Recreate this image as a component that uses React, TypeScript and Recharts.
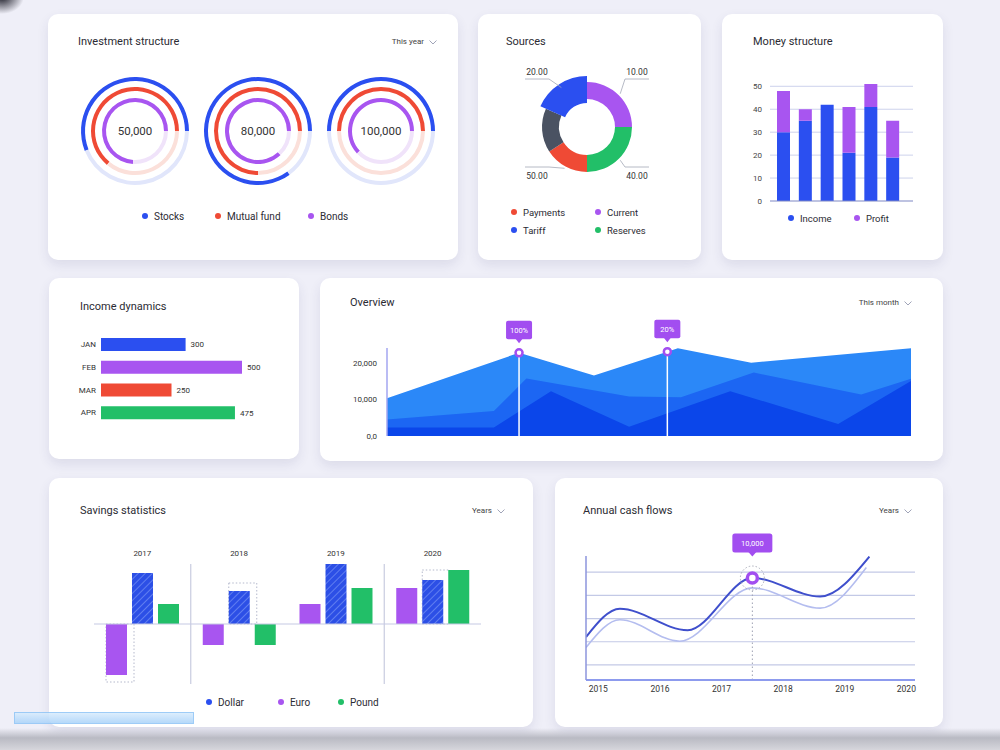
import React from "react"
import {
  PieChart,
  Pie,
  Cell,
  BarChart,
  Bar,
  XAxis,
  YAxis,
  CartesianGrid,
  LabelList,
  AreaChart,
  Area,
  LineChart,
  Line,
  ReferenceLine,
  ReferenceDot,
} from "recharts"

// Investment structure: share of each full ring (%)
const gaugeTotals = [50000, 80000, 100000]
const stocksShare = [56, 85, 50]
const mutualShare = [64, 75, 50]
const bondsShare = [74, 87, 62]

// Sources: slice sizes (clockwise from top) and callout values
const sourceNames = ["Current", "Reserves", "Payments", "Other", "Tariff"]
const sourceShares = [90, 90, 57, 57, 66]
const sourceLabels = ["10.00", "40.00", "50.00", "", "20.00"]

// Money structure
const moneyIncome = [30, 35, 42, 21, 41, 19]
const moneyProfit = [18, 5, 0, 20, 10, 16]
const moneyTicks = [0, 10, 20, 30, 40, 50]
const moneyMax = 51

// Income dynamics
const incomeMonths = ["JAN", "FEB", "MAR", "APR"]
const incomeValues = [300, 500, 250, 475]

// Overview (x = position through the month, %)
const ovLightX = [0, 25.2, 39.5, 53.5, 55.5, 69.5, 100]
const ovLight = [10300, 22700, 16500, 23000, 23900, 20000, 23900]
const ovMidX = [0, 20.4, 26.6, 46.2, 56.1, 70, 90.5, 100]
const ovMid = [4500, 6800, 15700, 10800, 10600, 17300, 11300, 15600]
const ovDarkX = [0, 20.4, 31.3, 46.2, 65.5, 86.1, 100]
const ovDark = [2300, 2300, 12200, 2500, 12200, 3300, 15000]
const ovTicks = [0, 10000, 20000]
const ovPinIndex = [1, 3]
const ovPinText = ["100%", "20%"]

// Savings statistics
const savingsYears = ["2017", "2018", "2019", "2020"]
const savingsEuro = [-51, -21, 20, 36]
const savingsDollar = [51, 33, 60, 44]
const savingsPound = [20, -21, 36, 54]
const savingsEuroPrev = [-58, null, null, null]
const savingsDollarPrev = [null, 41, null, 54]

// Annual cash flows
const cashDarkX = [2014.8, 2015.35, 2016.45, 2017.5, 2018.6, 2019.4]
const cashDark = [4900, 7350, 5500, 10000, 8400, 11850]
const cashLightX = [2014.8, 2015.35, 2016.32, 2017.5, 2018.6, 2019.35]
const cashLight = [4000, 6400, 4550, 9150, 7400, 10900]
const cashYears = [2015, 2016, 2017, 2018, 2019, 2020]
const cashGrid = [2500, 4500, 6500, 8500, 10500]
const cashDomain = [1200, 11900]
const cashPinIndex = 3

const C = {
  blue: "#2b4ff0",
  red: "#ef4a35",
  purple: "#a855f0",
  green: "#22bf68",
  slate: "#4a5262",
  pin: "#a24ef0",
  text: "#2b2b33",
}

const noMargin = { top: 0, right: 0, bottom: 0, left: 0 }

// y pixel of a value inside the plot area that recharts hands to the grid
const gridRows = (values: number[], lo: number, hi: number) => ({ offset }: any) =>
  values.map((v) => offset.top + (offset.height * (hi - v)) / (hi - lo))

function Card({ left, top, width, height, children }: any) {
  return (
    <div
      style={{
        position: "absolute",
        left,
        top,
        width,
        height,
        background: "#fff",
        borderRadius: 10,
        boxShadow: "0 5px 12px rgba(50,50,110,0.10)",
        overflow: "hidden",
      }}
    >
      {children}
    </div>
  )
}

function Title({ left, top, children }: any) {
  return (
    <div style={{ position: "absolute", left, top, fontSize: 11, lineHeight: "14px", color: C.text, zIndex: 2 }}>
      {children}
    </div>
  )
}

function Dropdown({ right, top, label }: any) {
  return (
    <div
      style={{
        position: "absolute",
        right,
        top,
        fontSize: 8,
        lineHeight: "10px",
        color: "#444",
        display: "flex",
        alignItems: "center",
        zIndex: 2,
      }}
    >
      {label}
      <svg width={8} height={5} style={{ marginLeft: 5 }}>
        <polyline points="0.5,0.5 4,4 7.5,0.5" fill="none" stroke="#a0a4b8" strokeWidth={1} />
      </svg>
    </div>
  )
}

function LegendItem({ x, y, color, label, size = 10 }: any) {
  return (
    <div
      style={{
        position: "absolute",
        left: x - 3,
        top: y - 7,
        height: 14,
        display: "flex",
        alignItems: "center",
        whiteSpace: "nowrap",
        fontSize: size,
        color: C.text,
      }}
    >
      <span style={{ width: 6, height: 6, borderRadius: 3, background: color, marginRight: 6 }} />
      {label}
    </div>
  )
}

function InvestmentCard() {
  const centers = [87, 210, 333]
  const rings = [
    { share: stocksShare, color: C.blue, track: "#e1e6fb", inner: 50, outer: 54 },
    { share: mutualShare, color: C.red, track: "#fbe0da", inner: 40, outer: 44 },
    { share: bondsShare, color: C.purple, track: "#f0e3fa", inner: 29, outer: 33 },
  ]
  return (
    <Card left={48} top={14} width={410} height={246}>
      <Title left={30} top={21}>Investment structure</Title>
      <Dropdown right={21} top={23} label="This year" />
      <div style={{ position: "absolute", left: 0, top: 0 }}>
        <PieChart width={410} height={246} margin={noMargin}>
          {centers.map((cx, g) =>
            rings.map((ring, r) => (
              <Pie
                key={`${g}-${r}`}
                data={[{ v: ring.share[g] }, { v: 100 - ring.share[g] }]}
                dataKey="v"
                cx={cx}
                cy={117}
                innerRadius={ring.inner}
                outerRadius={ring.outer}
                startAngle={0}
                endAngle={360}
                stroke="none"
                isAnimationActive={false}
              >
                <Cell fill={ring.color} />
                <Cell fill={ring.track} />
              </Pie>
            ))
          )}
        </PieChart>
      </div>
      {centers.map((cx, g) => (
        <div
          key={g}
          style={{
            position: "absolute",
            left: cx - 40,
            top: 110,
            width: 80,
            textAlign: "center",
            fontSize: 11.5,
            lineHeight: "14px",
            color: "#333",
          }}
        >
          {gaugeTotals[g].toLocaleString("en-US")}
        </div>
      ))}
      <LegendItem x={97} y={202} color={C.blue} label="Stocks" />
      <LegendItem x={170} y={202} color={C.red} label="Mutual fund" />
      <LegendItem x={263} y={202} color={C.purple} label="Bonds" />
    </Card>
  )
}

const sourceColors = [C.purple, C.green, C.red, C.slate, C.blue]

function renderSourceLabel(p: any) {
  const { cx, cy, midAngle, outerRadius, index } = p
  const text = sourceLabels[index]
  if (!text) return null
  const rad = Math.PI / 180
  const cos = Math.cos(-midAngle * rad)
  const sin = Math.sin(-midAngle * rad)
  const sx = cos >= 0 ? 1 : -1
  const sy = sin >= 0 ? 1 : -1
  const r = outerRadius + 2
  const x0 = cx + r * cos
  const y0 = cy + r * sin
  const ex = cx + sx * 38
  const ey = cy + (sy < 0 ? -48 : 40)
  const hx = cx + sx * 62
  return (
    <g>
      <polyline points={`${x0},${y0} ${ex},${ey} ${hx},${ey}`} fill="none" stroke="#a3a8b6" strokeWidth={0.8} />
      <text x={cx + sx * 50} y={sy < 0 ? ey - 4.5 : ey + 12} textAnchor="middle" fontSize={8.5} fill="#333">
        {text}
      </text>
    </g>
  )
}

function SourcesCard() {
  const data = sourceNames.map((name, i) => ({ name, value: sourceShares[i] }))
  const tariff = sourceNames.indexOf("Tariff")
  return (
    <Card left={478} top={14} width={223} height={246}>
      <Title left={28} top={21}>Sources</Title>
      <div style={{ position: "absolute", left: 0, top: 0 }}>
        <PieChart width={223} height={246} margin={noMargin}>
          <Pie
            data={data}
            dataKey="value"
            cx={109}
            cy={113}
            innerRadius={28}
            outerRadius={45}
            startAngle={90}
            endAngle={-270}
            stroke="none"
            label={renderSourceLabel}
            labelLine={false}
            isAnimationActive={false}
          >
            {data.map((d, i) => (
              <Cell key={d.name} fill={i === tariff ? "transparent" : sourceColors[i]} />
            ))}
          </Pie>
          <Pie
            data={data}
            dataKey="value"
            cx={109}
            cy={113}
            innerRadius={24}
            outerRadius={51}
            startAngle={90}
            endAngle={-270}
            stroke="none"
            isAnimationActive={false}
          >
            {data.map((d, i) => (
              <Cell key={d.name} fill={i === tariff ? sourceColors[i] : "transparent"} />
            ))}
          </Pie>
        </PieChart>
      </div>
      <LegendItem x={36} y={198} color={C.red} label="Payments" size={9.5} />
      <LegendItem x={120} y={198} color={C.purple} label="Current" size={9.5} />
      <LegendItem x={36} y={216} color={C.blue} label="Tariff" size={9.5} />
      <LegendItem x={120} y={216} color={C.green} label="Reserves" size={9.5} />
    </Card>
  )
}

function MoneyCard() {
  const data = moneyIncome.map((v, i) => ({ name: String(i + 1), income: v, profit: moneyProfit[i] }))
  return (
    <Card left={722} top={14} width={221} height={246}>
      <Title left={31} top={21}>Money structure</Title>
      <div style={{ position: "absolute", left: 0, top: 0 }}>
        <BarChart width={221} height={246} data={data} margin={{ top: 70, right: 30, bottom: 58, left: 18 }}>
          <CartesianGrid
            vertical={false}
            horizontalCoordinatesGenerator={gridRows(moneyTicks.filter((t) => t > 0), 0, moneyMax)}
            stroke="#cdd2ec"
          />
          <XAxis
            dataKey="name"
            tick={false}
            tickLine={false}
            height={1}
            padding={{ left: 3, right: 9 }}
            axisLine={{ stroke: "#7e87c4", strokeWidth: 1.2 }}
          />
          <YAxis
            domain={[0, moneyMax]}
            allowDataOverflow
            ticks={moneyTicks}
            width={30}
            tickLine={false}
            axisLine={false}
            tick={{ fontSize: 8, fill: "#444" }}
          />
          <Bar dataKey="income" stackId="a" fill={C.blue} barSize={13} isAnimationActive={false} />
          <Bar dataKey="profit" stackId="a" fill={C.purple} barSize={13} isAnimationActive={false} />
        </BarChart>
      </div>
      <LegendItem x={69} y={204} color={C.blue} label="Income" size={9.5} />
      <LegendItem x={135} y={204} color={C.purple} label="Profit" size={9.5} />
    </Card>
  )
}

const incomeColors = [C.blue, C.purple, C.red, C.green]

function IncomeCard() {
  const data = incomeMonths.map((month, i) => ({ month, value: incomeValues[i] }))
  return (
    <Card left={49} top={278} width={250} height={181}>
      <Title left={31} top={22}>Income dynamics</Title>
      <div style={{ position: "absolute", left: 0, top: 0 }}>
        <BarChart
          width={250}
          height={181}
          data={data}
          layout="vertical"
          margin={{ top: 55, right: 57, bottom: 35, left: 22 }}
        >
          <XAxis type="number" domain={[0, 500]} hide />
          <YAxis
            type="category"
            dataKey="month"
            width={30}
            tickLine={false}
            axisLine={false}
            tickSize={3}
            tickMargin={2}
            tick={{ fontSize: 8, fill: "#333" }}
          />
          <Bar dataKey="value" barSize={13} isAnimationActive={false}>
            {data.map((d, i) => (
              <Cell key={d.month} fill={incomeColors[i]} />
            ))}
            <LabelList dataKey="value" position="right" offset={5} fontSize={8} fill="#333" />
          </Bar>
        </BarChart>
      </div>
    </Card>
  )
}

const overviewPin = (text: string) => (p: any) => {
  const { cx, cy } = p
  return (
    <g>
      <rect x={cx - 13} y={cy - 32} width={26} height={18.5} rx={2} fill={C.pin} />
      <path d={`M${cx - 3.5},${cy - 14} L${cx},${cy - 9.5} L${cx + 3.5},${cy - 14} Z`} fill={C.pin} />
      <text x={cx} y={cy - 20} textAnchor="middle" fontSize={7.5} fill="#fff">
        {text}
      </text>
      <circle cx={cx} cy={cy} r={3.5} fill="#fff" stroke={C.pin} strokeWidth={2.5} />
    </g>
  )
}

function OverviewCard() {
  const rows = [
    ...ovLightX.map((x, i) => ({ x, light: ovLight[i] })),
    ...ovMidX.map((x, i) => ({ x, mid: ovMid[i] })),
    ...ovDarkX.map((x, i) => ({ x, dark: ovDark[i] })),
  ].sort((a, b) => a.x - b.x)
  return (
    <Card left={320} top={278} width={623} height={183}>
      <Title left={30} top={18}>Overview</Title>
      <Dropdown right={31} top={20} label="This month" />
      <div style={{ position: "absolute", left: 0, top: 0 }}>
        <AreaChart width={623} height={183} data={rows} margin={{ top: 70, right: 32, bottom: 25, left: 17 }}>
          <XAxis type="number" dataKey="x" domain={[0, 100]} hide />
          <YAxis
            domain={[0, 24000]}
            ticks={ovTicks}
            width={50}
            tickLine={false}
            tickMargin={4}
            axisLine={{ stroke: "#a3a6f0", strokeWidth: 1.5 }}
            tick={{ fontSize: 8, fill: "#333" }}
            tickFormatter={(v: number) => (v === 0 ? "0,0" : v.toLocaleString("en-US"))}
          />
          <Area dataKey="light" type="linear" stroke="none" fill="#2b88f8" fillOpacity={1} connectNulls isAnimationActive={false} />
          <Area dataKey="mid" type="linear" stroke="none" fill="#1c66f3" fillOpacity={1} connectNulls isAnimationActive={false} />
          <Area dataKey="dark" type="linear" stroke="none" fill="#0b46ea" fillOpacity={1} connectNulls isAnimationActive={false} />
          {ovPinIndex.map((idx) => (
            <ReferenceLine
              key={`l${idx}`}
              segment={[
                { x: ovLightX[idx], y: 0 },
                { x: ovLightX[idx], y: ovLight[idx] },
              ]}
              stroke="#ffffff"
              strokeWidth={1.5}
            />
          ))}
          {ovPinIndex.map((idx, k) => (
            <ReferenceDot key={`d${idx}`} x={ovLightX[idx]} y={ovLight[idx]} r={4} shape={overviewPin(ovPinText[k])} />
          ))}
        </AreaChart>
      </div>
    </Card>
  )
}

const prevBarShape = (fill: string, valueKey: string, prevKey: string) => (props: any) => {
  const { x, y, width, height, payload } = props
  const v = payload[valueKey]
  const prev = payload[prevKey]
  const top = Math.min(y, y + height)
  const h = Math.abs(height)
  const zeroY = v >= 0 ? top + h : top
  let ghost = null
  if (prev != null && v) {
    const gh = (Math.abs(prev) * h) / Math.abs(v)
    const gy = prev >= 0 ? zeroY - gh : zeroY
    ghost = (
      <rect x={x} y={gy} width={width + 7} height={gh} fill="none" stroke="#b5b9cc" strokeWidth={1} strokeDasharray="1.5 2" />
    )
  }
  return (
    <g>
      {ghost}
      <rect x={x} y={top} width={width} height={h} fill={fill} />
    </g>
  )
}

function SavingsCard() {
  const data = savingsYears.map((year, i) => ({
    year,
    euro: savingsEuro[i],
    dollar: savingsDollar[i],
    pound: savingsPound[i],
    euroPrev: savingsEuroPrev[i],
    dollarPrev: savingsDollarPrev[i],
  }))
  // dividers between 2017|2018 and 2019|2020 groups
  const dividers = ({ offset }: any) => [offset.left + offset.width / 4, offset.left + (offset.width * 3) / 4]
  return (
    <Card left={49} top={478} width={484} height={249}>
      <Title left={31} top={26}>Savings statistics</Title>
      <Dropdown right={28} top={28} label="Years" />
      <div style={{ position: "absolute", left: 0, top: 0 }}>
        <BarChart
          width={484}
          height={249}
          data={data}
          barGap={5}
          margin={{ top: 66, right: 52, bottom: 43, left: 45 }}
        >
          <CartesianGrid horizontal={false} verticalCoordinatesGenerator={dividers} stroke="#c8cce0" strokeWidth={1.2} />
          <XAxis
            dataKey="year"
            orientation="top"
            height={20}
            tickLine={false}
            axisLine={false}
            tick={{ fontSize: 8, fill: "#333" }}
          />
          <YAxis domain={[-60, 60]} hide />
          <ReferenceLine y={0} stroke="#c5cae3" strokeWidth={1.2} />
          <Bar dataKey="euro" barSize={21} isAnimationActive={false} shape={prevBarShape(C.purple, "euro", "euroPrev")} />
          <Bar
            dataKey="dollar"
            barSize={21}
            isAnimationActive={false}
            shape={prevBarShape("url(#hatch)", "dollar", "dollarPrev")}
          />
          <Bar dataKey="pound" barSize={21} fill={C.green} isAnimationActive={false} />
        </BarChart>
      </div>
      <LegendItem x={160} y={224} color={C.blue} label="Dollar" />
      <LegendItem x={232} y={224} color={C.purple} label="Euro" />
      <LegendItem x={292} y={224} color={C.green} label="Pound" />
    </Card>
  )
}

function cashPin(p: any) {
  const { cx, cy } = p
  return (
    <g>
      <circle cx={cx} cy={cy} r={12} fill="none" stroke="#a9abb8" strokeWidth={1} strokeDasharray="1.5 2" />
      <rect x={cx - 20} y={cy - 44.5} width={40} height={19} rx={2.5} fill={C.pin} />
      <path d={`M${cx - 4},${cy - 26} L${cx},${cy - 21.5} L${cx + 4},${cy - 26} Z`} fill={C.pin} />
      <text x={cx} y={cy - 32} textAnchor="middle" fontSize={7.5} fill="#fff">
        {cashDark[cashPinIndex].toLocaleString("en-US")}
      </text>
      <circle cx={cx} cy={cy} r={5} fill="#fff" stroke={C.pin} strokeWidth={3.5} />
    </g>
  )
}

function CashFlowCard() {
  const rows = [
    ...cashDarkX.map((x, i) => ({ x, dark: cashDark[i] })),
    ...cashLightX.map((x, i) => ({ x, light: cashLight[i] })),
  ].sort((a, b) => a.x - b.x)
  const px = cashDarkX[cashPinIndex]
  const py = cashDark[cashPinIndex]
  return (
    <Card left={555} top={478} width={388} height={249}>
      <Title left={28} top={26}>Annual cash flows</Title>
      <Dropdown right={31} top={28} label="Years" />
      <div style={{ position: "absolute", left: 0, top: 0 }}>
        <LineChart width={388} height={249} data={rows} margin={{ top: 78, right: 28, bottom: 27, left: 30 }}>
          <CartesianGrid
            vertical={false}
            horizontalCoordinatesGenerator={gridRows(cashGrid, cashDomain[0], cashDomain[1])}
            stroke="#c3c9e6"
            strokeWidth={1.2}
          />
          <XAxis
            type="number"
            dataKey="x"
            domain={[2014.8, 2020.14]}
            ticks={cashYears}
            allowDataOverflow
            height={20}
            tickLine={false}
            tickMargin={0}
            axisLine={{ stroke: "#8d9bee", strokeWidth: 2 }}
            tick={{ fontSize: 8.5, fill: "#333" }}
          />
          <YAxis
            domain={cashDomain}
            allowDataOverflow
            width={1}
            tick={false}
            tickLine={false}
            axisLine={{ stroke: "#8c94dd", strokeWidth: 1.5 }}
          />
          <Line dataKey="light" type="monotone" stroke="#b4bdef" strokeWidth={1.6} dot={false} connectNulls isAnimationActive={false} />
          <Line dataKey="dark" type="monotone" stroke="#3f4fcc" strokeWidth={2} dot={false} connectNulls isAnimationActive={false} />
          <ReferenceLine
            segment={[
              { x: px, y: cashDomain[0] },
              { x: px, y: py },
            ]}
            stroke="#9ea1b3"
            strokeDasharray="1.5 2.5"
          />
          <ReferenceDot x={px} y={py} r={5} shape={cashPin} />
        </LineChart>
      </div>
    </Card>
  )
}

export default function App() {
  return (
    <div
      style={{
        position: "absolute",
        left: 0,
        top: 0,
        width: 1000,
        height: 750,
        overflow: "hidden",
        background: "#efeff8",
        fontFamily: 'Roboto, "Noto Sans", sans-serif',
      }}
    >
      <svg width={0} height={0} style={{ position: "absolute" }}>
        <defs>
          <pattern id="hatch" patternUnits="userSpaceOnUse" width={5} height={5} patternTransform="rotate(45)">
            <rect width={5} height={5} fill="#2c4fe6" />
            <line x1={0} y1={0} x2={0} y2={5} stroke="#7c98f6" strokeWidth={1.3} />
          </pattern>
        </defs>
      </svg>
      <div
        style={{
          position: "absolute",
          left: -20,
          top: -20,
          width: 44,
          height: 34,
          borderRadius: "50%",
          background: "radial-gradient(closest-side, #1d1d28, rgba(30,30,40,0))",
        }}
      />
      <InvestmentCard />
      <SourcesCard />
      <MoneyCard />
      <IncomeCard />
      <OverviewCard />
      <SavingsCard />
      <CashFlowCard />
      <div
        style={{
          position: "absolute",
          left: 0,
          top: 728,
          width: 1000,
          height: 22,
          background: "linear-gradient(to bottom, rgba(239,239,248,0), #b9bac3 45%, #d6d6dc)",
        }}
      />
      <div
        style={{
          position: "absolute",
          left: 14,
          top: 712,
          width: 180,
          height: 12,
          border: "1.5px solid #8ec4f6",
          background: "linear-gradient(to bottom, #d7ebfd, #a9d3fa)",
          boxSizing: "border-box",
          opacity: 0.85,
        }}
      />
    </div>
  )
}
